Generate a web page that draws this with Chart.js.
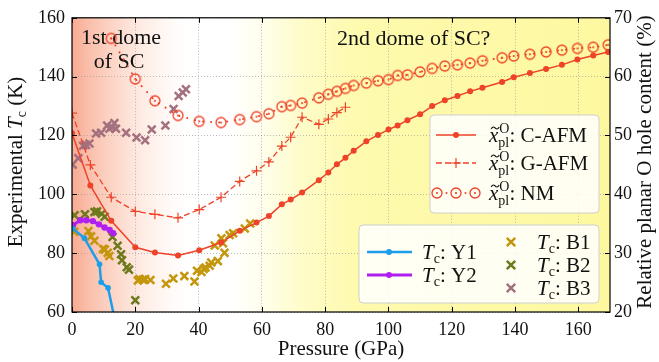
<!DOCTYPE html>
<html>
<head>
<meta charset="utf-8">
<script src="https://cdn.jsdelivr.net/npm/chart.js@4.4.1/dist/chart.umd.min.js"></script>
<style>
  html, body { margin: 0; padding: 0; background: #fff; }
  #wrap { width: 659px; height: 362px; }
</style>
</head>
<body>
<div id="wrap"><canvas id="Chart" width="659" height="362"></canvas></div>
<script>
// pressures (GPa) shared by the three hole-content curves
const pressures = [0, 5.8, 12.4, 20.0, 26.2, 33.5, 40.2, 47.1, 53.0, 58.3, 62.2, 66.3, 69.1, 72.7, 78.0, 81.0, 83.7, 86.4, 89.0,
    93.0, 96.7, 100.0, 102.9, 106.0, 110.0, 113.8, 117.8, 121.8, 125.8, 129.7, 135.9, 139.6, 144.7, 149.8, 154.8, 159.7, 164.7, 169.4];
// relative planar O hole content (%)
const holeCAFM = [50.4, 41.5, 35.5, 31.0, 30.1, 29.6, 30.5, 31.8, 33.8, 35.2, 36.3, 38.3, 39.1, 40.3, 42.4, 43.7, 45.1, 46.2, 47.4,
    49.0, 50.1, 51.0, 51.7, 52.6, 53.6, 55.0, 56.0, 56.7, 57.5, 58.1, 59.1, 59.9, 60.6, 61.3, 62.0, 62.9, 63.6, 64.2];
const holeGAFM = [53.8, 45.0, 39.5, 37.1, 36.6, 36.0, 37.4, 39.5, 42.2, 44.0, 45.5, 48.2, 49.7, 53.1, 51.9, 52.8, 53.9, 54.8];
const holeNM = [null, null, 66.5, 59.6, 55.9, 53.4, 52.4, 52.2, 52.7, 53.2, 53.7, 54.9, 55.1, 55.5, 56.4, 57.0, 57.5, 58.0, 58.5,
    58.9, 59.3, 59.5, 60.2, 60.3, 60.8, 61.4, 61.8, 62.0, 62.3, 62.7, 63.2, 63.5, 63.8, 64.2, 64.5, 64.8, 65.0, 65.4];

// experimental Tc (K)
const y1P = [0.2, 3.9, 8.7, 9.2, 11.4, 13.3];
const y1Tc = [88.4, 85.1, 76.2, 70.1, 68.2, 58.5];
const y2P = [0.3, 2.6, 4.5, 6.6, 8.5, 10.3, 11.9, 13.0];
const y2Tc = [89.5, 91.2, 91.2, 90.9, 89.8, 88.7, 87.9, 86.8];
const b1P = [0.7, 5.2, 6.0, 7.1, 9.8, 10.4, 11.3, 11.8, 20.8, 21.3, 22.4, 23.1, 24.8, 29.7, 32.0, 35.5,
    38.7, 39.5, 40.9, 41.6, 42.2, 43.5, 44.0, 45.1, 46.1, 47.2, 47.7, 48.2, 49.8, 50.9, 54.6, 56.3];
const b1Tc = [87.3, 87.5, 85.7, 84.2, 81.5, 81.2, 80.1, 79.0, 70.7, 71.2, 71.0, 71.2, 70.9, 69.6, 71.4, 72.2,
    70.4, 74.0, 73.6, 74.6, 75.1, 75.7, 76.8, 82.6, 77.3, 85.1, 83.4, 80.1, 86.2, 86.8, 88.4, 90.1];
const b2P = [0.8, 4.1, 7.1, 7.9, 9.4, 10.3, 12.8, 14.4, 15.5, 15.8, 17.3, 18.0, 20.0];
const b2Tc = [92.9, 93.2, 94.0, 94.2, 93.4, 92.4, 85.5, 82.5, 79.6, 77.6, 75.2, 74.4, 64.0];
const b3P = [0.2, 2.0, 3.5, 4.4, 5.5, 7.6, 9.2, 11.1, 11.8, 12.5, 13.4, 13.9, 17.1, 20.4, 23.1, 25.2, 29.5, 32.1, 33.7, 35.0, 36.0];
const b3Tc = [110.1, 112.3, 116.5, 116.8, 117.3, 120.7, 120.9, 123.4, 122.3, 122.9, 124.2, 122.3, 120.9, 119.3, 118.4, 122.0,
    123.4, 129.0, 133.4, 134.6, 135.7];

const xTicks = [0, 20, 40, 60, 80, 100, 120, 140, 160];

const SERIF = '"Liberation Serif", "Times New Roman", serif';
const RED = '#ee4229';
const BLUE = '#1c9ee9';
const PURPLE = '#b01ef0';
const GOLD = '#c4960c';
const OLIVE = '#6c7a1c';
const MAUVE = '#a4707f';

function pairs(xs, ys) {
    return xs.map((x, i) => ({ x: x, y: ys[i] })).filter(p => p.y !== null && p.y !== undefined);
}

// hollow circle with a dot in the middle, used for the NM curve
function ringImage() {
    const c = document.createElement('canvas');
    c.width = 14; c.height = 14;
    const g = c.getContext('2d');
    g.strokeStyle = RED; g.fillStyle = RED; g.lineWidth = 1.3;
    g.beginPath(); g.arc(7, 7, 5, 0, Math.PI * 2); g.stroke();
    g.beginPath(); g.arc(7, 7, 1.1, 0, Math.PI * 2); g.fill();
    return c;
}
const ring = ringImage();

// --- rich text helpers (italic, sub/superscripts) ---
function partsWidth(ctx, parts) {
    let w = 0;
    parts.forEach(p => {
        ctx.font = p.f;
        if (p.sup !== undefined) w += Math.max(ctx.measureText(p.sup).width, ctx.measureText(p.sub).width);
        else w += ctx.measureText(p.t).width;
    });
    return w;
}
function drawParts(ctx, parts, x, y, align) {
    let cx = align === 'center' ? x - partsWidth(ctx, parts) / 2 : x;
    ctx.textAlign = 'left';
    ctx.textBaseline = 'alphabetic';
    parts.forEach(p => {
        ctx.font = p.f;
        if (p.sup !== undefined) {
            ctx.fillText(p.sup, cx + 1, y - p.up);
            ctx.fillText(p.sub, cx, y + p.down);
            cx += Math.max(ctx.measureText(p.sup).width + 1, ctx.measureText(p.sub).width);
        } else {
            const w = ctx.measureText(p.t).width;
            ctx.fillText(p.t, cx, y + (p.dy || 0));
            if (p.tilde) {
                // small wave over the italic x
                const mx = cx + w / 2 + 1.5, ty = y - 14;
                ctx.save();
                ctx.strokeStyle = ctx.fillStyle; ctx.lineWidth = 1.1;
                ctx.beginPath();
                ctx.moveTo(mx - 4, ty + 1);
                ctx.bezierCurveTo(mx - 2.5, ty - 2, mx - 1, ty - 1, mx, ty);
                ctx.bezierCurveTo(mx + 1, ty + 1, mx + 2.5, ty + 2, mx + 4, ty - 1);
                ctx.stroke();
                ctx.restore();
            }
            cx += w;
        }
    });
}
function holeLabel(name) {
    return [
        { t: 'x', f: 'italic 21px ' + SERIF, tilde: true },
        { sup: 'O', sub: 'pl', f: '14px ' + SERIF, up: 9, down: 5 },
        { t: ': ' + name, f: '21px ' + SERIF }
    ];
}
function tcLabel(name) {
    return [
        { t: 'T', f: 'italic 21px ' + SERIF },
        { t: 'c', f: '14px ' + SERIF, dy: 4 },
        { t: ': ' + name, f: '21px ' + SERIF }
    ];
}

function markX(ctx, x, y, r, color, lw) {
    ctx.save();
    ctx.strokeStyle = color; ctx.lineWidth = lw; ctx.setLineDash([]);
    ctx.beginPath();
    ctx.moveTo(x - r * 0.7, y - r * 0.7); ctx.lineTo(x + r * 0.7, y + r * 0.7);
    ctx.moveTo(x - r * 0.7, y + r * 0.7); ctx.lineTo(x + r * 0.7, y - r * 0.7);
    ctx.stroke();
    ctx.restore();
}
function roundBox(ctx, x0, y0, x1, y1, r) {
    ctx.beginPath();
    ctx.moveTo(x0 + r, y0);
    ctx.lineTo(x1 - r, y0); ctx.quadraticCurveTo(x1, y0, x1, y0 + r);
    ctx.lineTo(x1, y1 - r); ctx.quadraticCurveTo(x1, y1, x1 - r, y1);
    ctx.lineTo(x0 + r, y1); ctx.quadraticCurveTo(x0, y1, x0, y1 - r);
    ctx.lineTo(x0, y0 + r); ctx.quadraticCurveTo(x0, y0, x0 + r, y0);
    ctx.closePath();
    ctx.fillStyle = 'rgba(255,255,255,0.85)';
    ctx.fill();
    ctx.strokeStyle = '#cfcfcf'; ctx.lineWidth = 1;
    ctx.stroke();
}

const backdrop = {
    id: 'backdrop',
    beforeDraw(chart) {
        const { ctx, chartArea: a } = chart;
        const g = ctx.createLinearGradient(a.left, 0, a.right, 0);
        const stops = [
            [0, 'rgb(248,170,146)'], [5, 'rgb(250,190,170)'], [13, 'rgb(252,214,200)'], [22, 'rgb(254,236,228)'],
            [32, 'rgb(255,251,249)'], [37, '#ffffff'], [50, '#ffffff'], [60, 'rgb(255,254,236)'],
            [73, 'rgb(254,252,200)'], [90, 'rgb(254,250,174)'], [170, 'rgb(253,248,160)']
        ];
        stops.forEach(s => g.addColorStop(s[0] / 170, s[1]));
        ctx.save();
        ctx.fillStyle = g;
        ctx.fillRect(a.left, a.top, a.right - a.left, a.bottom - a.top);
        ctx.restore();
    },
    beforeDatasetsDraw(chart) {
        const ctx = chart.ctx;
        ctx.save();
        ctx.fillStyle = '#111';
        ctx.font = '22px ' + SERIF;
        ctx.textAlign = 'center';
        ctx.textBaseline = 'middle';
        ctx.fillText('1st dome', 121, 38);
        ctx.fillText('of SC', 119, 62);
        ctx.textAlign = 'left';
        ctx.fillText('2nd dome of SC?', 337, 39);
        ctx.restore();
    },
    afterDatasetsDraw(chart) {
        const { ctx, chartArea: a, scales } = chart;
        ctx.save();
        ctx.strokeStyle = '#000';
        ctx.lineWidth = 1;
        ctx.beginPath();
        scales.x.ticks.forEach(t => {
            const px = Math.round(scales.x.getPixelForValue(t.value)) + 0.5;
            ctx.moveTo(px, a.bottom); ctx.lineTo(px, a.bottom - 5);
            ctx.moveTo(px, a.top); ctx.lineTo(px, a.top + 5);
        });
        scales.y.ticks.forEach(t => {
            const py = Math.round(scales.y.getPixelForValue(t.value)) + 0.5;
            ctx.moveTo(a.left, py); ctx.lineTo(a.left + 5, py);
        });
        scales.y2.ticks.forEach(t => {
            const py = Math.round(scales.y2.getPixelForValue(t.value)) + 0.5;
            ctx.moveTo(a.right, py); ctx.lineTo(a.right - 5, py);
        });
        ctx.stroke();
        ctx.lineWidth = 1.2;
        ctx.strokeRect(a.left, a.top, a.right - a.left, a.bottom - a.top);
        ctx.restore();
    },
    afterDraw(chart) {
        const ctx = chart.ctx;
        ctx.save();
        ctx.fillStyle = '#111';

        // axis titles
        drawParts(ctx, [{ t: 'Pressure (GPa)', f: '21px ' + SERIF }], 341, 355, 'center');
        ctx.save();
        ctx.translate(15, 162); ctx.rotate(-Math.PI / 2);
        drawParts(ctx, [
            { t: 'Experimental ', f: '21px ' + SERIF },
            { t: 'T', f: 'italic 21px ' + SERIF },
            { t: 'c', f: '14px ' + SERIF, dy: 4 },
            { t: ' (K)', f: '21px ' + SERIF }
        ], 0, 7, 'center');
        ctx.restore();
        ctx.save();
        ctx.translate(644, 162); ctx.rotate(-Math.PI / 2);
        drawParts(ctx, [{ t: 'Relative planar O hole content (%)', f: '21px ' + SERIF }], 0, 7, 'center');
        ctx.restore();

        // upper legend: hole content curves
        roundBox(ctx, 430, 115, 599, 213, 4);
        ctx.strokeStyle = RED; ctx.fillStyle = RED; ctx.lineWidth = 1.5;
        ctx.beginPath(); ctx.moveTo(436, 135); ctx.lineTo(476, 135); ctx.stroke();
        ctx.beginPath(); ctx.arc(456, 135, 3, 0, Math.PI * 2); ctx.fill();
        ctx.setLineDash([6, 3]);
        ctx.beginPath(); ctx.moveTo(436, 163); ctx.lineTo(476, 163); ctx.stroke();
        ctx.setLineDash([]);
        ctx.lineWidth = 1.2;
        ctx.beginPath(); ctx.moveTo(456, 158); ctx.lineTo(456, 168); ctx.moveTo(451, 163); ctx.lineTo(461, 163); ctx.stroke();
        [446.5, 465.5].forEach(x => { ctx.beginPath(); ctx.arc(x, 193, 1, 0, Math.PI * 2); ctx.fill(); });
        [437, 456, 475].forEach(x => ctx.drawImage(ring, x - 7, 186));
        ctx.fillStyle = '#111';
        drawParts(ctx, holeLabel('C-AFM'), 489, 142);
        drawParts(ctx, holeLabel('G-AFM'), 489, 170);
        drawParts(ctx, holeLabel('NM'), 489, 200);

        // lower legend: experiments
        roundBox(ctx, 359, 225, 599, 303, 4);
        [[BLUE, 252, 2.5], [PURPLE, 275, 3]].forEach(r => {
            ctx.strokeStyle = r[0]; ctx.fillStyle = r[0]; ctx.lineWidth = r[2];
            ctx.beginPath(); ctx.moveTo(367, r[1]); ctx.lineTo(412, r[1]); ctx.stroke();
            ctx.beginPath(); ctx.arc(389, r[1], 3, 0, Math.PI * 2); ctx.fill();
        });
        markX(ctx, 511, 242, 6, GOLD, 2.5);
        markX(ctx, 511, 265, 6, OLIVE, 2.5);
        markX(ctx, 511, 288, 6, MAUVE, 2.5);
        ctx.fillStyle = '#111';
        drawParts(ctx, tcLabel('Y1'), 422, 259);
        drawParts(ctx, tcLabel('Y2'), 422, 282);
        drawParts(ctx, tcLabel('B1'), 537, 249);
        drawParts(ctx, tcLabel('B2'), 537, 272);
        drawParts(ctx, tcLabel('B3'), 537, 295);
        ctx.restore();
    }
};

const tickFont = { family: SERIF, size: 18 };

const config = {
    type: 'line',
    data: {
        datasets: [
            {
                label: 'Tc: Y1', data: pairs(y1P, y1Tc), yAxisID: 'y',
                borderColor: BLUE, backgroundColor: BLUE, borderWidth: 2.5,
                pointRadius: 2.8, pointBorderWidth: 0
            },
            {
                label: 'Tc: Y2', data: pairs(y2P, y2Tc), yAxisID: 'y',
                borderColor: PURPLE, backgroundColor: PURPLE, borderWidth: 3,
                pointRadius: 3.2, pointBorderWidth: 0
            },
            {
                label: 'C-AFM', data: pairs(pressures, holeCAFM), yAxisID: 'y2',
                borderColor: RED, backgroundColor: RED, borderWidth: 1.5,
                pointRadius: 3, pointBorderWidth: 0
            },
            {
                label: 'G-AFM', data: pairs(pressures, holeGAFM), yAxisID: 'y2',
                borderColor: RED, backgroundColor: RED, borderWidth: 1.3, borderDash: [6, 3],
                pointStyle: 'cross', pointRadius: 5, pointBorderWidth: 1.2
            },
            {
                label: 'NM', data: pairs(pressures, holeNM), yAxisID: 'y2',
                borderColor: RED, backgroundColor: RED, borderWidth: 2, borderDash: [0.1, 8], borderCapStyle: 'round',
                pointStyle: ring, pointRadius: 5
            },
            {
                label: 'Tc: B1', data: pairs(b1P, b1Tc), yAxisID: 'y', showLine: false,
                borderColor: GOLD, backgroundColor: GOLD, pointStyle: 'crossRot', pointRadius: 5.5, pointBorderWidth: 2.5
            },
            {
                label: 'Tc: B2', data: pairs(b2P, b2Tc), yAxisID: 'y', showLine: false,
                borderColor: OLIVE, backgroundColor: OLIVE, pointStyle: 'crossRot', pointRadius: 5.5, pointBorderWidth: 2.5
            },
            {
                label: 'Tc: B3', data: pairs(b3P, b3Tc), yAxisID: 'y', showLine: false,
                borderColor: MAUVE, backgroundColor: MAUVE, pointStyle: 'crossRot', pointRadius: 5.5, pointBorderWidth: 2.5
            }
        ]
    },
    options: {
        responsive: false,
        animation: false,
        layout: { padding: { top: 12, left: 0, right: 0, bottom: 0 } },
        elements: { line: { tension: 0 } },
        datasets: { line: { clip: 0 } },
        plugins: { legend: { display: false }, tooltip: { enabled: false } },
        scales: {
            x: {
                type: 'linear', min: 0, max: 170,
                afterBuildTicks: s => { s.ticks = xTicks.map(v => ({ value: v })); },
                afterFit: s => { s.height = 50; },
                ticks: { font: tickFont, color: '#111', padding: 7, maxRotation: 0 },
                grid: { color: 'rgba(150,150,150,0.8)', lineWidth: 0.8, drawTicks: false },
                border: { display: false, dash: [1, 2] }
            },
            y: {
                position: 'left', min: 60, max: 160,
                ticks: { stepSize: 20, font: tickFont, color: '#111', padding: 7 },
                afterFit: s => { s.width = 72; },
                grid: { color: 'rgba(150,150,150,0.8)', lineWidth: 0.8, drawTicks: false },
                border: { display: false, dash: [1, 2] }
            },
            y2: {
                position: 'right', min: 20, max: 70,
                ticks: { stepSize: 10, font: tickFont, color: '#111', padding: 4 },
                afterFit: s => { s.width = 49; },
                grid: { display: false, drawTicks: false },
                border: { display: false }
            }
        }
    },
    plugins: [backdrop]
};

const myChart = new Chart(document.getElementById('Chart'), config);
</script>
</body>
</html>
